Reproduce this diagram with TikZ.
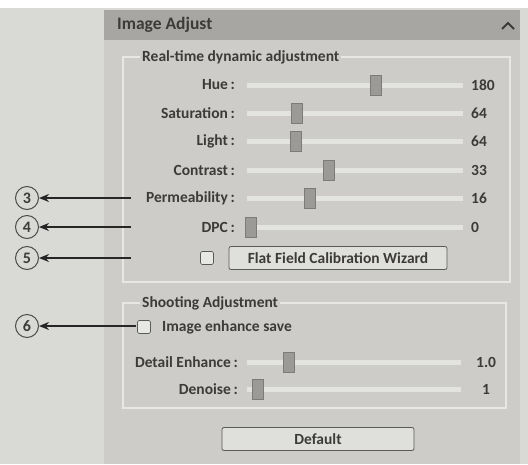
\documentclass[tikz,border=0pt]{standalone}
\usepackage{fontspec}
\setmainfont{Carlito}
\usetikzlibrary{arrows.meta}
\definecolor{outer}{HTML}{D9D9D5}
\definecolor{panel}{HTML}{CDCCC8}
\definecolor{header}{HTML}{A8A6A2}
\definecolor{frameln}{HTML}{E7E7E3}
\definecolor{track}{HTML}{E3E3DF}
\definecolor{thumb}{HTML}{9C9A96}
\definecolor{txt}{HTML}{3C3B39}
\tikzset{
  uifont/.style={font=\fontsize{15.5}{17}\selectfont\bfseries},
  lbl/.style={anchor=east,inner sep=0pt,text=txt,uifont},
  val/.style={anchor=west,inner sep=0pt,text=txt,uifont},
  ttl/.style={anchor=west,inner sep=0pt,text=txt,uifont,fill=panel,inner xsep=2pt},
  trackbar/.style={fill=track,draw=none},
  thumbbox/.style={fill=thumb,draw=thumb!80!black,line width=0.4pt},
  grpframe/.style={draw=frameln,line width=2.5pt},
  btn/.style={draw=gray!70!black,fill=frameln!70!panel,rounded corners=2pt,line width=0.8pt,text=txt,uifont,inner sep=0pt},
  chk/.style={draw=gray!70!black,fill=frameln,rounded corners=1.5pt,line width=0.6pt,minimum size=13pt,inner sep=0pt},
  num/.style={circle,draw=gray!60!black,line width=1pt,minimum size=23pt,inner sep=0pt,text=txt,font=\fontsize{16}{18}\selectfont\bfseries},
  arr/.style={-{Stealth[length=10pt,width=8pt]},line width=2.2pt,black!85}
}
\begin{document}
\begin{tikzpicture}[x=1pt,y=-1pt]
\useasboundingbox (0,0) rectangle (528,464);
% backgrounds
\fill[white] (0,0) rectangle (528,464);
\fill[outer] (0,8) rectangle (528,464);
\fill[panel] (104,10) rectangle (520,464);
\fill[header] (104,10) rectangle (520,40);
\node[anchor=west,inner sep=0pt,text=txt,font=\fontsize{17.5}{19}\selectfont\bfseries] (hdr) at (117,25) {Image Adjust};
\draw[txt,line width=2pt] (502,29) -- (508,23) -- (514,29);
% group 1
\draw[grpframe] (123,57) rectangle (510,282);
\node[ttl] (g1) at (140,57) {Real-time dynamic adjustment};
% group 2
\draw[grpframe] (123,303) rectangle (506,408);
\node[ttl] (g2) at (140,303) {Shooting Adjustment};
% sliders
\foreach \n/\y/\l/\t/\v in {hue/85/Hue/376/180, sat/113/Saturation/297/64, lig/141/Light/296/64, con/170/Contrast/329/33, per/198/Permeability/310/16, dpc/227/DPC/251/0}{
  \node[lbl] (l\n) at (235,\y) {\l\,:};
  \fill[trackbar] (247,\y-2.5) rectangle (463,\y+2.5);
  \draw[thumbbox] (\t-5.5,\y-10) rectangle (\t+5.5,\y+10);
  \node[val] (v\n) at (471,\y) {\v};
}
% flat field
\node[chk] (cb1) at (207,258) {};
\node[btn,minimum width=218pt,minimum height=23pt] (ffc) at (338,258) {Flat Field Calibration Wizard};
% shooting
\node[chk] (cb2) at (144,327) {};
\node[val] (ies) at (162,327) {Image enhance save};
\foreach \n/\y/\l/\t/\v/\vx in {det/362/Detail Enhance/289/1.0/476, den/389/Denoise/258/1/482}{
  \node[lbl] (l\n) at (238,\y) {\l\,:};
  \fill[trackbar] (247,\y-2.5) rectangle (461,\y+2.5);
  \draw[thumbbox] (\t-5.5,\y-10) rectangle (\t+5.5,\y+10);
  \node[val] (v\n) at (\vx,\y) {\v};
}
% default button
\node[btn,minimum width=192pt,minimum height=23pt] (def) at (318,439) {Default};
% callouts
\node[num] (c3) at (27,198) {3};
\node[num] (c4) at (27,227) {4};
\node[num] (c5) at (27,258) {5};
\node[num] (c6) at (27,326) {6};
\coordinate (a3) at (131,198);
\coordinate (a4) at (131,227);
\coordinate (a5) at (131,258);
\coordinate (a6) at (136,326);
\draw[arr] (a3) -- (c3);
\draw[arr] (a4) -- (c4);
\draw[arr] (a5) -- (c5);
\draw[arr] (a6) -- (c6);
\end{tikzpicture}
\end{document}
